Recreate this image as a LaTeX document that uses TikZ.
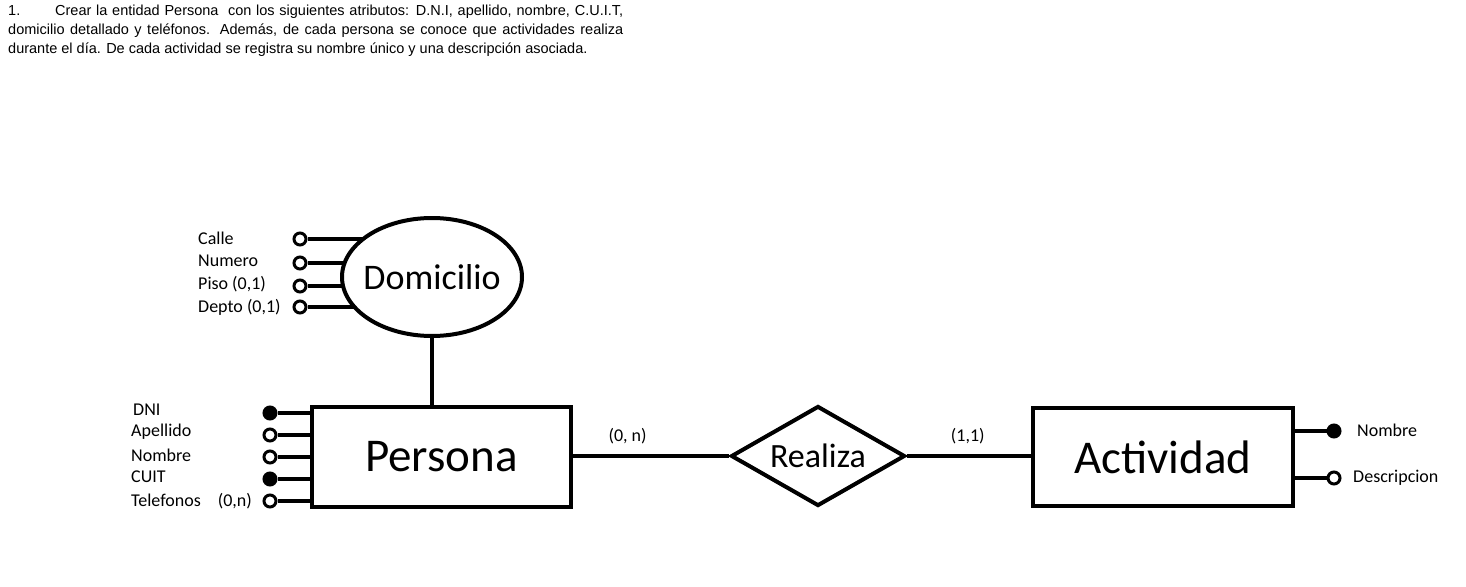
\documentclass[tikz,border=0pt]{standalone}
\usepackage{fontspec}
\setmainfont{Carlito}
\newfontfamily\headfont{Liberation Sans}
\usetikzlibrary{positioning,shapes.geometric,backgrounds}

\tikzset{
  entity/.style={draw,line width=4pt,fill=white,minimum width=259pt,minimum height=100pt,
                 inner sep=0pt,font=\fontsize{47}{50}\selectfont},
  attrib/.style={circle,draw,line width=3pt,fill=white,minimum size=12pt,inner sep=0pt},
  keyattr/.style={attrib,fill=black},
  lbl/.style={anchor=west,inner sep=0pt,font=\fontsize{18}{20}\selectfont},
  card/.style={inner sep=0pt,font=\fontsize{18}{20}\selectfont},
  link/.style={line width=4pt},
}

\begin{document}
\begin{tikzpicture}[x=1pt,y=-1pt]
  \useasboundingbox (0,0) rectangle (1466,586);

  % enunciado
  \node[anchor=north west,inner sep=0pt,text width=615pt,align=justify,
        font=\headfont\fontsize{14.5}{19}\selectfont] (enunciado) at (8,5)
    {\makebox[47pt][l]{1.}Crear la entidad Persona\ \ con los siguientes atributos: D.N.I,
     apellido, nombre, C.U.I.T,\linebreak domicilio detallado y teléfonos. Además, de cada
     persona se conoce que actividades realiza\linebreak durante el día. De cada actividad
     se registra su nombre único y una descripción asociada.};

  % entidades y relacion
  \node[entity] (persona) at (441.5,457) {Persona};
  \node[diamond,draw,line width=4pt,fill=white,aspect=1.74,minimum width=174pt,
        minimum height=100pt,inner sep=0pt,font=\fontsize{34}{36}\selectfont] (realiza)
    at (818,456) {Realiza};
  \node[entity,minimum width=260pt,minimum height=98pt] (actividad) at (1163,457) {Actividad};
  \node[ellipse,draw,line width=4pt,fill=white,minimum width=180pt,minimum height=118pt,
        inner xsep=-6pt,inner ysep=0pt,font=\fontsize{36}{38}\selectfont] (domicilio)
    at (432,277) {Domicilio};

  \draw[link] (persona.east |- realiza) -- node[card,pos=.35,yshift=20pt] (card-p) {(0, n)} (realiza.west);
  \draw[link] (realiza.east) -- node[card,pos=.49,yshift=20pt] (card-a) {(1,1)} (realiza -| actividad.west);
  \draw[link] (domicilio.south) -- (domicilio.south |- persona.north);

  % atributos de persona
  \foreach \n/\y/\s in {dni/413/keyattr,apellido/435/attrib,nombre/457/attrib,
                        cuit/479/keyattr,telefonos/501/attrib}{
    \node[\s] (\n) at (270,\y) {};
    \draw[link] (\n) -- (\n -| persona.west);
  }
  \node[lbl] (dni-lbl) at (133,410) {DNI};
  \node[lbl] (apellido-lbl) at (131,432) {Apellido};
  \node[lbl] (nombre-lbl) at (131,455) {Nombre};
  \node[lbl] (cuit-lbl) at (131,477) {CUIT};
  \node[lbl] (telefonos-lbl) at (131,501) {Telefonos\hspace{17pt}(0,n)};

  % atributos de domicilio
  \foreach \n/\y in {calle/239,numero/263,piso/286,depto/307}{
    \node[attrib] (\n) at (300,\y) {};
  }
  \begin{scope}[on background layer]
    \foreach \n in {calle,numero,piso,depto}
      \draw[link] (\n) -- (\n -| domicilio.center);
  \end{scope}
  \node[lbl] (calle-lbl) at (198,238) {Calle};
  \node[lbl] (numero-lbl) at (198,261) {Numero};
  \node[lbl] (piso-lbl) at (198,284) {Piso (0,1)};
  \node[lbl] (depto-lbl) at (198,307) {Depto (0,1)};

  % atributos de actividad
  \node[keyattr] (nombre-act) at (1334,431) {};
  \node[attrib] (descripcion) at (1334,478) {};
  \draw[link] (nombre-act) -- (nombre-act -| actividad.east);
  \draw[link] (descripcion) -- (descripcion -| actividad.east);
  \node[lbl] (nombre-act-lbl) at (1357,430) {Nombre};
  \node[lbl] (descripcion-lbl) at (1353,478) {Descripcion};
\end{tikzpicture}
\end{document}
